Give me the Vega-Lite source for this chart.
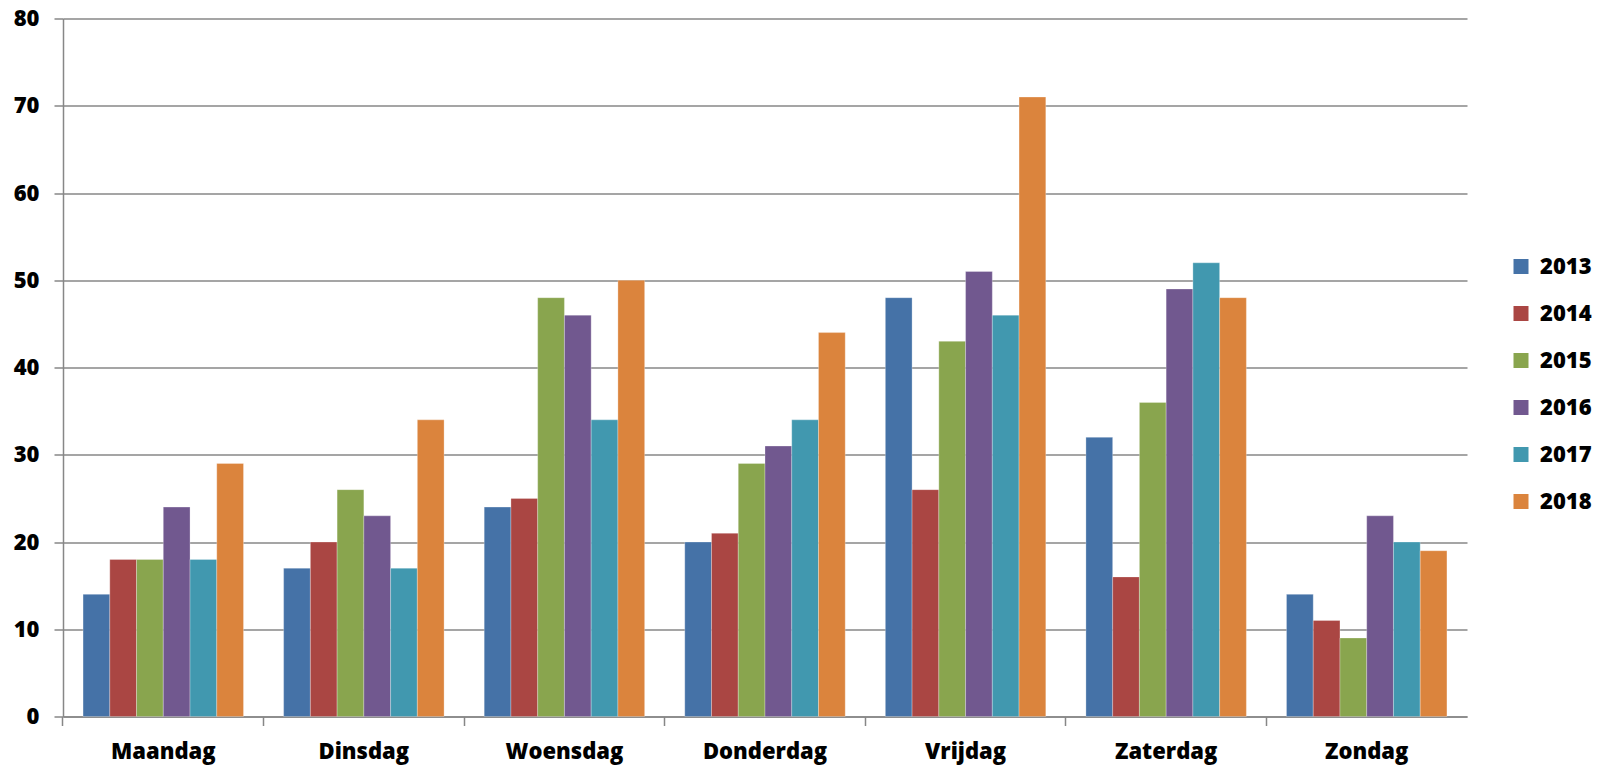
{
  "$schema": "https://vega.github.io/schema/vega-lite/v6.json",
  "width": 1404,
  "height": 698,
  "autosize": {"type": "none"},
  "padding": {"left": 63, "top": 18.5, "right": 135, "bottom": 54.5},
  "background": "white",
  "config": {"view": {"stroke": null}, "font": "Open Sans"},
  "data": {
    "values": [
      {"dag": "Maandag", "jaar": "2013", "waarde": 14},
      {"dag": "Maandag", "jaar": "2014", "waarde": 18},
      {"dag": "Maandag", "jaar": "2015", "waarde": 18},
      {"dag": "Maandag", "jaar": "2016", "waarde": 24},
      {"dag": "Maandag", "jaar": "2017", "waarde": 18},
      {"dag": "Maandag", "jaar": "2018", "waarde": 29},
      {"dag": "Dinsdag", "jaar": "2013", "waarde": 17},
      {"dag": "Dinsdag", "jaar": "2014", "waarde": 20},
      {"dag": "Dinsdag", "jaar": "2015", "waarde": 26},
      {"dag": "Dinsdag", "jaar": "2016", "waarde": 23},
      {"dag": "Dinsdag", "jaar": "2017", "waarde": 17},
      {"dag": "Dinsdag", "jaar": "2018", "waarde": 34},
      {"dag": "Woensdag", "jaar": "2013", "waarde": 24},
      {"dag": "Woensdag", "jaar": "2014", "waarde": 25},
      {"dag": "Woensdag", "jaar": "2015", "waarde": 48},
      {"dag": "Woensdag", "jaar": "2016", "waarde": 46},
      {"dag": "Woensdag", "jaar": "2017", "waarde": 34},
      {"dag": "Woensdag", "jaar": "2018", "waarde": 50},
      {"dag": "Donderdag", "jaar": "2013", "waarde": 20},
      {"dag": "Donderdag", "jaar": "2014", "waarde": 21},
      {"dag": "Donderdag", "jaar": "2015", "waarde": 29},
      {"dag": "Donderdag", "jaar": "2016", "waarde": 31},
      {"dag": "Donderdag", "jaar": "2017", "waarde": 34},
      {"dag": "Donderdag", "jaar": "2018", "waarde": 44},
      {"dag": "Vrijdag", "jaar": "2013", "waarde": 48},
      {"dag": "Vrijdag", "jaar": "2014", "waarde": 26},
      {"dag": "Vrijdag", "jaar": "2015", "waarde": 43},
      {"dag": "Vrijdag", "jaar": "2016", "waarde": 51},
      {"dag": "Vrijdag", "jaar": "2017", "waarde": 46},
      {"dag": "Vrijdag", "jaar": "2018", "waarde": 71},
      {"dag": "Zaterdag", "jaar": "2013", "waarde": 32},
      {"dag": "Zaterdag", "jaar": "2014", "waarde": 16},
      {"dag": "Zaterdag", "jaar": "2015", "waarde": 36},
      {"dag": "Zaterdag", "jaar": "2016", "waarde": 49},
      {"dag": "Zaterdag", "jaar": "2017", "waarde": 52},
      {"dag": "Zaterdag", "jaar": "2018", "waarde": 48},
      {"dag": "Zondag", "jaar": "2013", "waarde": 14},
      {"dag": "Zondag", "jaar": "2014", "waarde": 11},
      {"dag": "Zondag", "jaar": "2015", "waarde": 9},
      {"dag": "Zondag", "jaar": "2016", "waarde": 23},
      {"dag": "Zondag", "jaar": "2017", "waarde": 20},
      {"dag": "Zondag", "jaar": "2018", "waarde": 19}
    ]
  },
  "mark": {"type": "bar", "stroke": "#ffffff", "strokeOpacity": 0.35, "strokeWidth": 0.8},
  "encoding": {
    "x": {
      "field": "dag",
      "type": "nominal",
      "sort": null,
      "title": null,
      "scale": {"paddingInner": 0.2, "paddingOuter": 0.1},
      "axis": {
        "labelAngle": 0,
        "labelFont": "Open Sans",
        "labelFontWeight": 800,
        "labelFontSize": 22,
        "labelColor": "#000000",
        "labelPadding": 16,
        "domainColor": "#878787",
        "domainWidth": 1.5,
        "tickColor": "#878787",
        "tickWidth": 1.5,
        "tickSize": 9,
        "bandPosition": -0.125
      }
    },
    "xOffset": {"field": "jaar", "type": "nominal", "scale": {"paddingInner": 0, "paddingOuter": 0}},
    "y": {
      "field": "waarde",
      "type": "quantitative",
      "title": null,
      "scale": {"domain": [0, 80], "nice": false},
      "axis": {
        "values": [0, 10, 20, 30, 40, 50, 60, 70, 80],
        "labelFont": "Open Sans",
        "labelFontWeight": 800,
        "labelFontSize": 22,
        "labelColor": "#000000",
        "labelPadding": 15,
        "domainColor": "#878787",
        "domainWidth": 1.5,
        "tickColor": "#878787",
        "tickWidth": 1.5,
        "tickSize": 9,
        "gridColor": "#878787",
        "gridWidth": 1.5,
        "gridOpacity": 1
      }
    },
    "color": {
      "field": "jaar",
      "type": "nominal",
      "scale": {
        "domain": ["2013", "2014", "2015", "2016", "2017", "2018"],
        "range": ["#4572A7", "#AA4643", "#89A54E", "#71588F", "#4198AF", "#DB843D"]
      },
      "legend": {
        "title": null,
        "orient": "none",
        "legendX": 1447,
        "legendY": 237,
        "symbolType": "square",
        "symbolSize": 225,
        "symbolStrokeWidth": 0,
        "symbolOpacity": 1,
        "labelFont": "Open Sans",
        "labelFontWeight": 800,
        "labelFontSize": 22,
        "labelColor": "#000000",
        "labelOffset": 8,
        "rowPadding": 25,
        "padding": 0
      }
    }
  }
}
